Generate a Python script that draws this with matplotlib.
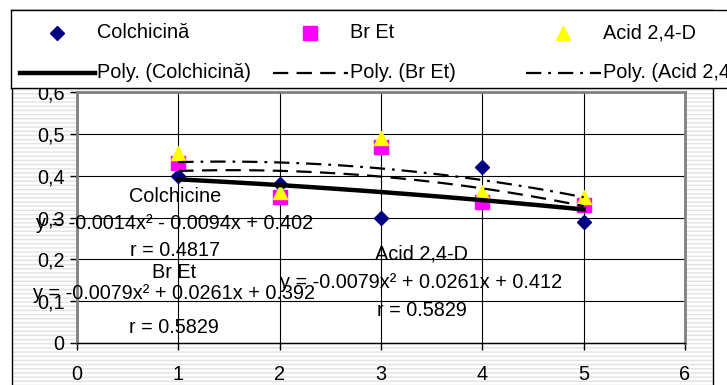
import numpy as np
import matplotlib
matplotlib.use('Agg')
import matplotlib.pyplot as plt
from matplotlib.patches import Rectangle

plt.rcParams['font.family'] = ['Liberation Sans', 'DejaVu Sans']
plt.rcParams['lines.scale_dashes'] = False
plt.rcParams['hatch.linewidth'] = 1.0

# data
x_vals = [1, 2, 3, 4, 5]
colchicina = [0.40, 0.38, 0.30, 0.42, 0.29]
br_et = [0.431, 0.348, 0.469, 0.338, 0.331]
acid = [0.455, 0.362, 0.490, 0.362, 0.350]

series_names = ['Colchicină', 'Br Et', 'Acid 2,4-D']
eq_labels = ['Colchicine', 'Br Et', 'Acid 2,4-D']
eq_texts = ['y = -0.0014x² - 0.0094x + 0.402',
            'y = -0.0079x² + 0.0261x + 0.392',
            'y = -0.0079x² + 0.0261x + 0.412']
r_texts = ['r = 0.4817', 'r = 0.5829', 'r = 0.5829']
y_ticks = [0, 0.1, 0.2, 0.3, 0.4, 0.5, 0.6]
y_ticklabels = ['0', '0,1', '0,2', '0,3', '0,4', '0,5', '0,6']
x_ticks = [0, 1, 2, 3, 4, 5, 6]

W, H = 727, 385
FS = 14.3

fig = plt.figure(figsize=(W / 100, H / 100), dpi=100)

# chart area with light dashed pattern
bg = Rectangle((12 / W, -0.1), (713 - 12) / W, 1.1 - 10 / H, transform=fig.transFigure,
               facecolor='white', edgecolor='#e2e2e2', lw=0, hatch='----', zorder=-2)
frame = Rectangle((12 / W, -0.1), (713 - 12) / W, 1.1 - 10 / H, transform=fig.transFigure,
                  facecolor='none', edgecolor='black', lw=1, zorder=-1)
fig.patches.extend([bg, frame])

ax = fig.add_axes([77 / W, (H - 343) / H, (685 - 77) / W, (343 - 92) / H])
ax.set_facecolor('white')

markers = [('D', '#000080', 7.5), ('s', '#ff00ff', 9.5), ('^', '#ffff00', 10.5)]
styles = [dict(ls='-', lw=3.2), dict(ls=(0, (11, 6)), lw=1.6), dict(ls=(0, (11, 5, 2, 5)), lw=1.6)]
data = [colchicina, br_et, acid]

for i, ys in enumerate(data):
    m, c, ms = markers[i]
    ax.plot(x_vals, ys, ls='none', marker=m, color=c, markersize=ms,
            markeredgecolor=c, zorder=3 + i, clip_on=False)

xs = np.linspace(1, 5, 100)
for i, ys in enumerate(data):
    coef = np.polyfit(x_vals, ys, 2)
    ax.plot(xs, np.polyval(coef, xs), color='black', zorder=7, **styles[i])

ax.set_xlim(0, 6)
ax.set_ylim(0, 0.6)
ax.set_xticks(x_ticks)
ax.set_yticks(y_ticks)
ax.set_yticklabels(y_ticklabels)
ax.tick_params(direction='out', length=5, width=1, labelsize=FS, colors='black', pad=4)
ax.tick_params(axis='x', pad=11)
ax.grid(True, color='black', lw=0.8)
ax.set_axisbelow(True)
for s in ax.spines.values():
    s.set_color('#808080')
    s.set_linewidth(2)
ax.spines['bottom'].set_color('black')
ax.spines['bottom'].set_linewidth(1)

# trendline equations
eq_pos = [(0.967, 0.350, 0.285, 0.220), (0.957, 0.168, 0.118, 0.036), (3.40, 0.213, 0.144, 0.077)]
for i in range(3):
    xc, y1, y2, y3 = eq_pos[i]
    ax.text(xc, y1, eq_labels[i], ha='center', va='center', fontsize=FS, zorder=8)
    ax.text(xc, y2, eq_texts[i], ha='center', va='center', fontsize=FS, zorder=8)
    ax.text(xc, y3, r_texts[i], ha='center', va='center', fontsize=FS, zorder=8)

# legend box, running off the right edge
lx0, ly0, lw_, lh = 11, 10, 760, 78
lax = fig.add_axes([lx0 / W, (H - ly0 - lh) / H, lw_ / W, lh / H])
lax.set_xlim(0, lw_)
lax.set_ylim(lh, 0)
lax.set_xticks([])
lax.set_yticks([])
lax.set_facecolor('white')
for s in lax.spines.values():
    s.set_color('black')
    s.set_linewidth(1)
col_x = [20, 273, 526]
for i in range(3):
    x0 = col_x[i] - lx0
    m, c, ms = markers[i]
    lax.plot([x0 + 37], [23], marker=m, color=c, markersize=ms, markeredgecolor=c, ls='none')
    lax.text(x0 + 77, 23, series_names[i], va='center', ha='left', fontsize=FS)
    lax.plot([x0, x0 + 75], [63, 63], color='black', **styles[i])
    lax.text(x0 + 77, 63, 'Poly. (%s)' % series_names[i], va='center', ha='left', fontsize=FS)

fig.savefig('out.png', dpi=100)
